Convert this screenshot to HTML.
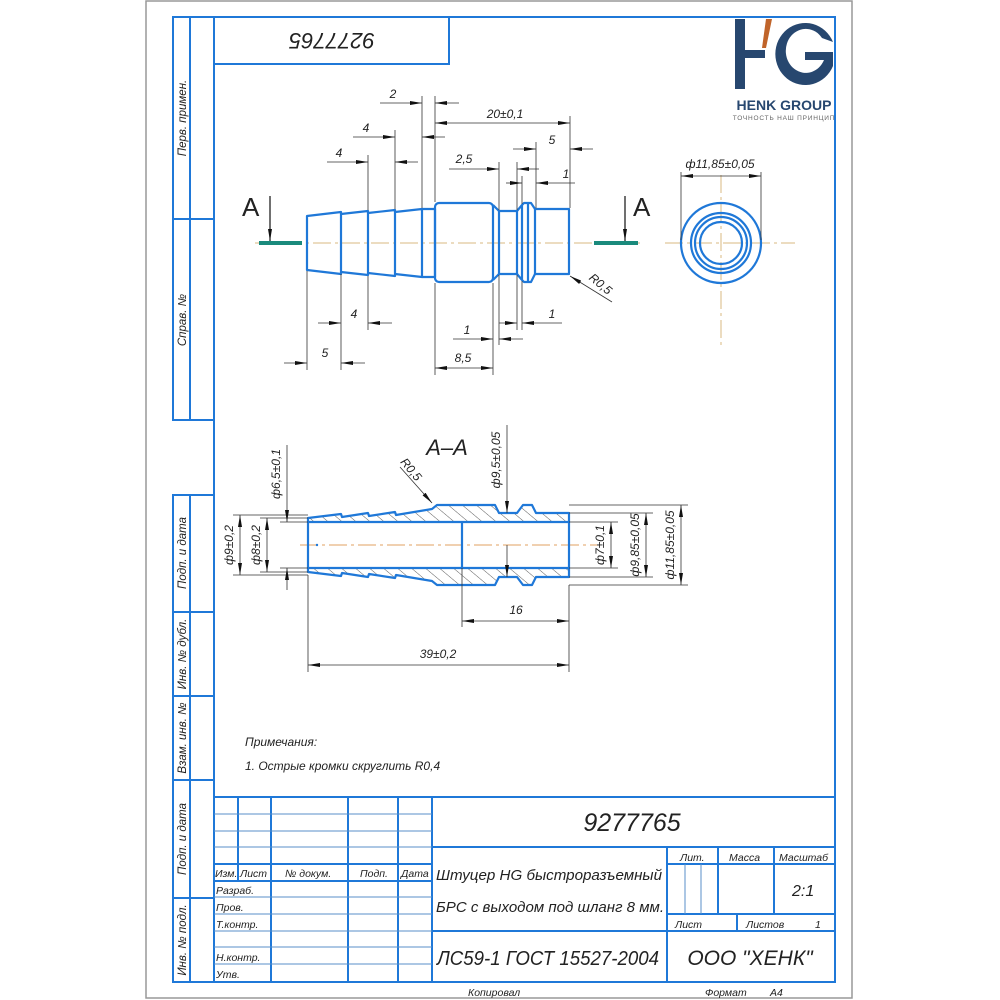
<!DOCTYPE html>
<html><head><meta charset="utf-8"><style>
html,body{margin:0;padding:0;background:#fff}
svg{display:block}
text{font-family:"Liberation Sans","DejaVu Sans",sans-serif;font-style:italic;fill:#222}
</style></head><body>
<svg width="1000" height="1000" viewBox="0 0 1000 1000" xmlns="http://www.w3.org/2000/svg">
<defs>
<marker id="ar" viewBox="0 0 12 4" refX="12" refY="2" markerWidth="12" markerHeight="4" markerUnits="userSpaceOnUse" orient="auto-start-reverse"><path d="M0,0 L12,2 L0,4z" fill="#111"/></marker>
<pattern id="hat" width="9" height="9" patternUnits="userSpaceOnUse" patternTransform="rotate(-50)"><line x1="0" y1="0" x2="0" y2="9" stroke="#333" stroke-width="0.8"/></pattern>
</defs>
<rect x="146" y="1" width="706" height="997" fill="none" stroke="#999" stroke-width="1.5"/>
<g fill="none" stroke="#1f78d8" stroke-width="2">
<rect x="214" y="17" width="621" height="965"/>
<rect x="214" y="17" width="235" height="47"/>
<rect x="173" y="17" width="41" height="403"/>
<line x1="190" y1="17" x2="190" y2="420"/>
<line x1="173" y1="219" x2="214" y2="219"/>
<rect x="173" y="495" width="41" height="487"/>
<line x1="190" y1="495" x2="190" y2="982"/>
<line x1="173" y1="612" x2="214" y2="612"/>
<line x1="173" y1="696" x2="214" y2="696"/>
<line x1="173" y1="780" x2="214" y2="780"/>
<line x1="173" y1="898" x2="214" y2="898"/>
<line x1="214" y1="797" x2="835" y2="797"/>
<line x1="214" y1="864" x2="432" y2="864"/>
<line x1="214" y1="881" x2="432" y2="881"/>
<line x1="238" y1="797" x2="238" y2="881"/>
<line x1="271" y1="797" x2="271" y2="982"/>
<line x1="348" y1="797" x2="348" y2="982"/>
<line x1="398" y1="797" x2="398" y2="982"/>
<line x1="432" y1="797" x2="432" y2="982"/>
<line x1="432" y1="847" x2="835" y2="847"/>
<line x1="432" y1="931" x2="835" y2="931"/>
<line x1="667" y1="847" x2="667" y2="982"/>
<line x1="718" y1="847" x2="718" y2="914"/>
<line x1="774" y1="847" x2="774" y2="914"/>
<line x1="667" y1="864" x2="835" y2="864"/>
<line x1="667" y1="914" x2="835" y2="914"/>
<line x1="737" y1="914" x2="737" y2="931"/>
</g>
<g stroke="#5a8fc8" stroke-width="1">
<line x1="214" y1="814" x2="432" y2="814"/><line x1="214" y1="831" x2="432" y2="831"/><line x1="214" y1="847" x2="432" y2="847"/>
<line x1="214" y1="897" x2="432" y2="897"/><line x1="214" y1="914" x2="432" y2="914"/><line x1="214" y1="931" x2="432" y2="931"/><line x1="214" y1="947" x2="432" y2="947"/><line x1="214" y1="964" x2="432" y2="964"/>
<line x1="685" y1="864" x2="685" y2="914"/><line x1="701" y1="864" x2="701" y2="914"/>
</g>
<text x="332" y="49" font-size="22" transform="rotate(180 332 41)" text-anchor="middle">9277765</text>
<text x="632" y="831" font-size="25" text-anchor="middle">9277765</text>
<text x="436" y="880" font-size="15" textLength="226" lengthAdjust="spacingAndGlyphs">Штуцер HG быстроразъемный</text>
<text x="436" y="912" font-size="15" textLength="228" lengthAdjust="spacingAndGlyphs">БРС с выходом под шланг 8 мм.</text>
<text x="437" y="965" font-size="20" textLength="222" lengthAdjust="spacingAndGlyphs">ЛС59-1 ГОСТ 15527-2004</text>
<text x="750" y="965" font-size="21" text-anchor="middle">ООО "ХЕНК"</text>
<g font-size="10.5">
<text x="215" y="877">Изм.</text><text x="240" y="877">Лист</text><text x="285" y="877">№ докум.</text><text x="360" y="877">Подп.</text><text x="401" y="877">Дата</text>
<text x="216" y="894">Разраб.</text><text x="216" y="911">Пров.</text><text x="216" y="928">Т.контр.</text><text x="216" y="961">Н.контр.</text><text x="216" y="978">Утв.</text>
<text x="680" y="861">Лит.</text><text x="729" y="861">Масса</text><text x="779" y="861">Масштаб</text>
<text x="675" y="928">Лист</text><text x="746" y="928">Листов</text><text x="815" y="928">1</text>
<text x="468" y="996">Копировал</text><text x="705" y="996">Формат</text><text x="770" y="996">А4</text>
</g>
<text x="792" y="896" font-size="16">2:1</text>
<g font-size="11.5">
<text transform="translate(186 118) rotate(-90)" text-anchor="middle">Перв. примен.</text>
<text transform="translate(186 320) rotate(-90)" text-anchor="middle">Справ. №</text>
<text transform="translate(186 553) rotate(-90)" text-anchor="middle">Подп. и дата</text>
<text transform="translate(186 654) rotate(-90)" text-anchor="middle">Инв. № дубл.</text>
<text transform="translate(186 738) rotate(-90)" text-anchor="middle">Взам. инв. №</text>
<text transform="translate(186 839) rotate(-90)" text-anchor="middle">Подп. и дата</text>
<text transform="translate(186 940) rotate(-90)" text-anchor="middle">Инв. № подл.</text>
</g>
<text x="245" y="746" font-size="12">Примечания:</text>
<text x="245" y="770" font-size="12">1. Острые кромки скруглить R0,4</text>
<g fill="#27476f">
<rect x="735" y="19" width="10" height="70"/><rect x="735" y="50" width="30" height="8"/>
<path d="M833 42 A30 31 0 1 0 833 66 L833 52 L805 52 L805 60 L824 60 A20 22 0 1 1 822 38z"/>
</g>
<path d="M766 19 L772 19 L766 48 L762 48z" fill="#c0642a"/>
<text x="784" y="110" font-size="14" font-weight="bold" text-anchor="middle" style="fill:#27476f;font-style:normal">HENK GROUP</text>
<text x="784" y="120" font-size="6.5" text-anchor="middle" style="fill:#666;font-style:normal" letter-spacing="0.8">ТОЧНОСТЬ НАШ ПРИНЦИП</text>
<g stroke="#d8b882" stroke-width="1" stroke-dasharray="18,4,3,4" fill="none">
<line x1="255" y1="243" x2="640" y2="243"/>
<line x1="665" y1="243" x2="795" y2="243"/>
<line x1="721" y1="175" x2="721" y2="345"/>
<line x1="300" y1="545" x2="600" y2="545" stroke="#e0a060"/>
</g>
<g stroke="#1a8a7c" stroke-width="4"><line x1="259" y1="243" x2="302" y2="243"/><line x1="594" y1="243" x2="638" y2="243"/></g>
<g stroke="#111" stroke-width="1.2" fill="none"><line x1="270" y1="196" x2="270" y2="241" marker-end="url(#ar)"/><line x1="625" y1="196" x2="625" y2="241" marker-end="url(#ar)"/></g>
<text x="242" y="216" font-size="26" style="font-style:normal">A</text>
<text x="633" y="216" font-size="26" style="font-style:normal">A</text>
<g fill="none" stroke="#1f78d8" stroke-width="2.2" stroke-linejoin="round">
<path d="M307 216 L341 212 L341 274 L307 270z"/>
<path d="M341 214 L368 211 L368 275 L341 272"/>
<path d="M368 213 L395 210 L395 276 L368 273"/>
<path d="M395 212 L422 209 L422 277 L395 274"/>
<path d="M422 209 L435 209 L435 277 L422 277"/>
<rect x="435" y="203" width="58" height="79" rx="4"/>
<path d="M493 205 L499 211 L517 211 L522 205 L524 203 L531 203 L535 209 L569 209 L569 274 L535 274 L531 282 L524 282 L522 280 L517 274 L499 274 L493 280"/>
<line x1="499" y1="211" x2="499" y2="274"/><line x1="517" y1="211" x2="517" y2="274"/><line x1="522" y1="205" x2="522" y2="280"/><line x1="528" y1="203" x2="528" y2="282"/><line x1="535" y1="209" x2="535" y2="274"/>
</g>
<g fill="none" stroke="#1f78d8" stroke-width="2.2"><circle cx="721" cy="243" r="40"/><circle cx="721" cy="243" r="30"/><circle cx="721" cy="243" r="26"/><circle cx="721" cy="243" r="21"/></g>
<g stroke="#333" stroke-width="0.8" fill="none">
<line x1="422" y1="96" x2="422" y2="208"/><line x1="435" y1="96" x2="435" y2="202"/>
<line x1="395" y1="130" x2="395" y2="209"/><line x1="368" y1="155" x2="368" y2="210"/>
<line x1="570" y1="116" x2="570" y2="208"/><line x1="536" y1="142" x2="536" y2="208"/>
<line x1="499" y1="162" x2="499" y2="210"/><line x1="517" y1="162" x2="517" y2="210"/>
<line x1="522" y1="176" x2="522" y2="204"/>
<line x1="307" y1="271" x2="307" y2="370"/><line x1="341" y1="274" x2="341" y2="370"/><line x1="368" y1="276" x2="368" y2="330"/>
<line x1="435" y1="283" x2="435" y2="375"/><line x1="493" y1="283" x2="493" y2="375"/><line x1="499" y1="275" x2="499" y2="345"/><line x1="517" y1="275" x2="517" y2="330"/><line x1="522" y1="281" x2="522" y2="330"/>
<line x1="380" y1="103" x2="422" y2="103" marker-end="url(#ar)"/><line x1="459" y1="103" x2="435" y2="103" marker-end="url(#ar)"/>
<line x1="435" y1="123" x2="570" y2="123" marker-start="url(#ar)" marker-end="url(#ar)"/>
<line x1="353" y1="137" x2="395" y2="137" marker-end="url(#ar)"/><line x1="445" y1="137" x2="422" y2="137" marker-end="url(#ar)"/>
<line x1="513" y1="149" x2="536" y2="149" marker-end="url(#ar)"/><line x1="593" y1="149" x2="570" y2="149" marker-end="url(#ar)"/>
<line x1="327" y1="162" x2="368" y2="162" marker-end="url(#ar)"/><line x1="418" y1="162" x2="395" y2="162" marker-end="url(#ar)"/>
<line x1="449" y1="169" x2="499" y2="169" marker-end="url(#ar)"/><line x1="539" y1="169" x2="517" y2="169" marker-end="url(#ar)"/>
<line x1="506" y1="183" x2="522" y2="183" marker-end="url(#ar)"/><line x1="575" y1="183" x2="536" y2="183" marker-end="url(#ar)"/>
<line x1="318" y1="323" x2="341" y2="323" marker-end="url(#ar)"/><line x1="392" y1="323" x2="368" y2="323" marker-end="url(#ar)"/>
<line x1="284" y1="363" x2="307" y2="363" marker-end="url(#ar)"/><line x1="365" y1="363" x2="341" y2="363" marker-end="url(#ar)"/>
<line x1="499" y1="323" x2="517" y2="323" marker-end="url(#ar)"/><line x1="562" y1="323" x2="522" y2="323" marker-end="url(#ar)"/>
<line x1="453" y1="339" x2="493" y2="339" marker-end="url(#ar)"/><line x1="523" y1="339" x2="499" y2="339" marker-end="url(#ar)"/>
<line x1="435" y1="368" x2="493" y2="368" marker-start="url(#ar)" marker-end="url(#ar)"/>
<line x1="612" y1="302" x2="570" y2="276" marker-end="url(#ar)"/>
<line x1="681" y1="172" x2="681" y2="240"/><line x1="761" y1="172" x2="761" y2="240"/>
<line x1="681" y1="176" x2="761" y2="176" marker-start="url(#ar)" marker-end="url(#ar)"/>
</g>
<g font-size="12" text-anchor="middle">
<text x="393" y="98">2</text><text x="505" y="118">20±0,1</text><text x="366" y="132">4</text><text x="552" y="144">5</text>
<text x="339" y="157">4</text><text x="464" y="163">2,5</text><text x="566" y="178">1</text>
<text x="354" y="318">4</text><text x="325" y="357">5</text><text x="552" y="318">1</text><text x="467" y="334">1</text><text x="463" y="362">8,5</text>
<text x="720" y="168">ф11,85±0,05</text>
<text transform="translate(598 287) rotate(40)">R0,5</text>
</g>
<text x="447" y="455" font-size="22" text-anchor="middle">A–A</text>
<g fill="url(#hat)" stroke="#1f78d8" stroke-width="2.2" stroke-linejoin="round">
<path d="M308 522 L308 518 L341 514 L342 517 L368 513 L369 516 L395 512 L396 515 L432 509 L437 505 L495 505 L499 513 L517 513 L523 505 L532 505 L536 513 L569 513 L569 522z"/>
<path d="M308 568 L308 572 L341 576 L342 573 L368 577 L369 574 L395 578 L396 575 L432 581 L437 585 L495 585 L499 577 L517 577 L523 585 L532 585 L536 577 L569 577 L569 568z"/>
</g>
<g stroke="#1f78d8" stroke-width="2.2" fill="none"><line x1="308" y1="522" x2="308" y2="568"/><line x1="462" y1="522" x2="462" y2="568"/><line x1="569" y1="522" x2="569" y2="568"/></g>
<circle cx="317" cy="545" r="1.2" fill="#1f78d8"/>
<g stroke="#333" stroke-width="0.8" fill="none">
<line x1="233" y1="515" x2="308" y2="515"/><line x1="233" y1="575" x2="308" y2="575"/>
<line x1="260" y1="518" x2="308" y2="518"/><line x1="260" y1="572" x2="308" y2="572"/>
<line x1="280" y1="522" x2="308" y2="522"/><line x1="280" y1="568" x2="308" y2="568"/>
<line x1="240" y1="515" x2="240" y2="575" marker-start="url(#ar)" marker-end="url(#ar)"/>
<line x1="267" y1="518" x2="267" y2="572" marker-start="url(#ar)" marker-end="url(#ar)"/>
<line x1="287" y1="445" x2="287" y2="522" marker-end="url(#ar)"/><line x1="287" y1="590" x2="287" y2="568" marker-end="url(#ar)"/>
<line x1="507" y1="425" x2="507" y2="513" marker-end="url(#ar)"/><line x1="507" y1="545" x2="507" y2="577" marker-end="url(#ar)"/>
<line x1="569" y1="522" x2="618" y2="522"/><line x1="569" y1="568" x2="618" y2="568"/>
<line x1="569" y1="513" x2="653" y2="513"/><line x1="569" y1="577" x2="653" y2="577"/>
<line x1="569" y1="505" x2="688" y2="505"/><line x1="569" y1="585" x2="688" y2="585"/>
<line x1="611" y1="522" x2="611" y2="568" marker-start="url(#ar)" marker-end="url(#ar)"/>
<line x1="646" y1="513" x2="646" y2="577" marker-start="url(#ar)" marker-end="url(#ar)"/>
<line x1="681" y1="505" x2="681" y2="585" marker-start="url(#ar)" marker-end="url(#ar)"/>
<line x1="462" y1="568" x2="462" y2="627"/><line x1="569" y1="585" x2="569" y2="672"/><line x1="308" y1="575" x2="308" y2="672"/>
<line x1="462" y1="621" x2="569" y2="621" marker-start="url(#ar)" marker-end="url(#ar)"/>
<line x1="308" y1="665" x2="569" y2="665" marker-start="url(#ar)" marker-end="url(#ar)"/>
<line x1="400" y1="467" x2="432" y2="503" marker-end="url(#ar)"/>
</g>
<g font-size="12" text-anchor="middle">
<text transform="translate(233 545) rotate(-90)">ф9±0,2</text>
<text transform="translate(260 545) rotate(-90)">ф8±0,2</text>
<text transform="translate(280 474) rotate(-90)">ф6,5±0,1</text>
<text transform="translate(500 460) rotate(-90)">ф9,5±0,05</text>
<text transform="translate(604 545) rotate(-90)">ф7±0,1</text>
<text transform="translate(639 545) rotate(-90)">ф9,85±0,05</text>
<text transform="translate(674 545) rotate(-90)">ф11,85±0,05</text>
<text x="516" y="614">16</text><text x="438" y="658">39±0,2</text>
<text transform="translate(408 472) rotate(50)">R0,5</text>
</g>
</svg>
</body></html>
